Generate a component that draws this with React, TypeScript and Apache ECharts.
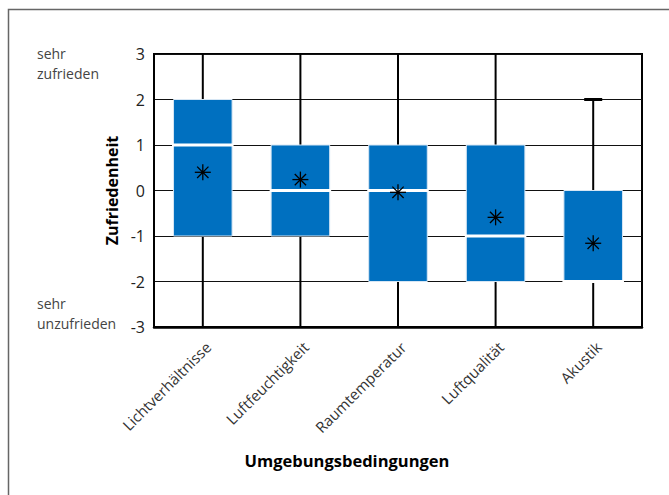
import React, { useEffect, useRef } from "react";
import * as echarts from "echarts";

const categories = ["Lichtverhältnisse", "Luftfeuchtigkeit", "Raumtemperatur", "Luftqualität", "Akustik"];
const whiskerMin = [-3, -3, -3, -3, -3];
const q1 = [-1, -1, -2, -2, -2];
const median = [1, 0, 0, -1, -2];
const q3 = [2, 1, 1, 1, 0];
const whiskerMax = [3, 3, 3, 3, 2];
const mean = [0.4, 0.24, -0.04, -0.59, -1.16];
const yTicks = [-3, -2, -1, 0, 1, 2, 3];

const FONT = "'Open Sans', 'Noto Sans', sans-serif";

export default function App() {
  const ref = useRef<HTMLDivElement>(null);
  useEffect(() => {
    if (!ref.current) return;
    const chart = echarts.init(ref.current, null, { renderer: "svg" });
    const yMin = yTicks[0];
    const yMax = yTicks[yTicks.length - 1];
    const data = categories.map((c, i) => [i, whiskerMin[i], q1[i], median[i], q3[i], whiskerMax[i], mean[i]]);
    chart.setOption({
      animation: false,
      backgroundColor: "#fff",
      grid: {
        left: 154,
        right: 27,
        top: 54,
        bottom: 168,
        show: true,
        borderColor: "#000",
        borderWidth: 2,
        backgroundColor: "transparent",
      },
      xAxis: {
        type: "category",
        data: categories,
        axisLine: { show: true, onZero: false, lineStyle: { color: "#000", width: 2.5 } },
        axisTick: { show: false },
        axisLabel: {
          rotate: 45,
          margin: 12,
          fontSize: 15,
          color: "#333",
          fontFamily: FONT,
          interval: 0,
          verticalAlign: "top",
        },
        splitLine: { show: false },
      },
      yAxis: {
        type: "value",
        min: yMin,
        max: yMax,
        interval: 1,
        axisLine: { show: true, lineStyle: { color: "#000", width: 2 } },
        axisTick: { show: false },
        axisLabel: { fontSize: 16, color: "#222", fontFamily: FONT, margin: 9 },
        splitLine: { show: true, lineStyle: { color: "#111", width: 1 } },
        name: "Zufriedenheit",
        nameLocation: "middle",
        nameGap: 31,
        nameRotate: 90,
        nameTextStyle: { fontSize: 16, fontWeight: "bold", color: "#000", fontFamily: FONT },
      },
      series: [
        {
          type: "custom",
          data,
          encode: { x: 0, y: [1, 2, 3, 4, 5, 6] },
          z: 5,
          renderItem: (params: any, api: any) => {
            const idx = api.value(0);
            const wMin = api.value(1);
            const b1 = api.value(2);
            const med = api.value(3);
            const b3 = api.value(4);
            const wMax = api.value(5);
            const mn = api.value(6);
            const band = api.size([1, 0])[0];
            const bw = band * 0.6;
            const pMin = api.coord([idx, wMin]);
            const p1 = api.coord([idx, b1]);
            const pMed = api.coord([idx, med]);
            const p3 = api.coord([idx, b3]);
            const pMax = api.coord([idx, wMax]);
            const pMean = api.coord([idx, mn]);
            const cx = p1[0];
            const children: any[] = [];
            const lineStyle = { stroke: "#000", lineWidth: 2 };
            children.push({ type: "line", shape: { x1: cx, y1: p3[1], x2: cx, y2: pMax[1] }, style: lineStyle });
            children.push({ type: "line", shape: { x1: cx, y1: p1[1], x2: cx, y2: pMin[1] }, style: lineStyle });
            const capW = 18;
            if (wMax < yMax) {
              children.push({ type: "line", shape: { x1: cx - capW / 2, y1: pMax[1], x2: cx + capW / 2, y2: pMax[1] }, style: { stroke: "#000", lineWidth: 3 } });
            }
            if (wMin > yMin) {
              children.push({ type: "line", shape: { x1: cx - capW / 2, y1: pMin[1], x2: cx + capW / 2, y2: pMin[1] }, style: { stroke: "#000", lineWidth: 3 } });
            }
            children.push({
              type: "rect",
              shape: { x: cx - bw / 2, y: p3[1], width: bw, height: p1[1] - p3[1] },
              style: { fill: "#0070C0", stroke: "#d6e6f4", lineWidth: 1 },
            });
            children.push({
              type: "line",
              shape: { x1: cx - bw / 2 - 1.5, y1: pMed[1], x2: cx + bw / 2 + 1.5, y2: pMed[1] },
              style: { stroke: "#fff", lineWidth: 3 },
            });
            const r = 8;
            const d = r * Math.SQRT1_2;
            const mx = pMean[0];
            const my = pMean[1];
            const ast = { stroke: "#000", lineWidth: 1.3 };
            children.push({ type: "line", shape: { x1: mx - r, y1: my, x2: mx + r, y2: my }, style: ast });
            children.push({ type: "line", shape: { x1: mx, y1: my - r, x2: mx, y2: my + r }, style: ast });
            children.push({ type: "line", shape: { x1: mx - d, y1: my - d, x2: mx + d, y2: my + d }, style: ast });
            children.push({ type: "line", shape: { x1: mx - d, y1: my + d, x2: mx + d, y2: my - d }, style: ast });
            children.push({ type: "circle", shape: { cx: mx, cy: my, r: 1.6 }, style: { fill: "#000" } });
            return { type: "group", children };
          },
        },
      ],
      graphic: [
        {
          type: "rect",
          shape: { x: 8.5, y: 9.5, width: 1000, height: 1000 },
          style: { fill: "none", stroke: "#666", lineWidth: 1.5 },
          silent: true,
        },
        {
          type: "text",
          x: 37,
          y: 43,
          style: { text: "sehr\nzufrieden", fontSize: 14, lineHeight: 20, fill: "#444", fontFamily: FONT },
        },
        {
          type: "text",
          x: 37,
          y: 293,
          style: { text: "sehr\nunzufrieden", fontSize: 14, lineHeight: 20, fill: "#444", fontFamily: FONT },
        },
        {
          type: "text",
          x: 347,
          y: 460,
          style: {
            text: "Umgebungsbedingungen",
            fontSize: 16.5,
            fontWeight: "bold",
            fill: "#000",
            fontFamily: FONT,
            align: "center",
            verticalAlign: "middle",
          },
        },
      ],
    });
    return () => chart.dispose();
  }, []);
  return <div ref={ref} style={{ width: 669, height: 495, position: "absolute", left: 0, top: 0 }} />;
}
